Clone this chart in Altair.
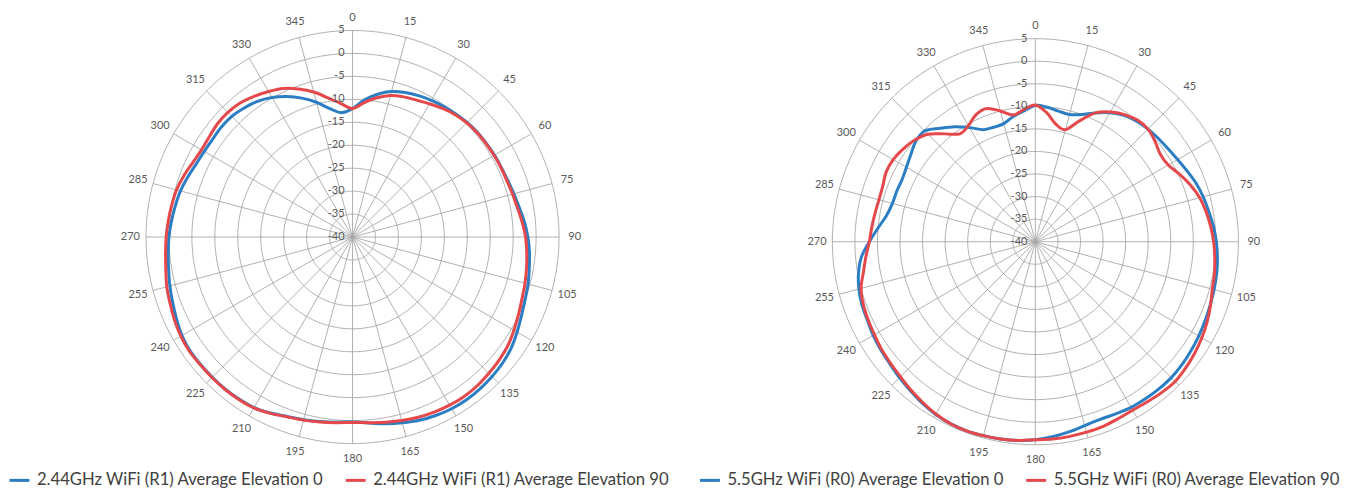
import altair as alt
import pandas as pd

# ---------------- data (dB) ----------------
ANGLES = list(range(0, 360, 5))

L_BLUE = [-12.0, -10.0, -8.4, -7.2, -6.5, -6.0, -5.6, -5.3, -5.0, -4.7, -4.5, -4.4,
          -4.3, -4.2, -4.0, -3.6, -3.1, -2.4, -1.8, -1.3, -0.9, -0.4, 0.0, 0.6,
          1.4, 2.2, 2.7, 3.0, 3.2, 3.3, 3.2, 2.9, 2.5, 1.9, 1.3, 0.7,
          0.3, 0.5, 0.8, 1.2, 1.6, 2.3, 2.9, 3.1, 3.2, 3.2, 3.2, 3.2,
          2.9, 2.3, 1.7, 1.2, 0.7, 0.3, 0.0, -0.4, -0.8, -1.2, -1.8, -2.4,
          -2.7, -2.8, -2.7, -2.8, -3.3, -3.9, -4.9, -6.2, -7.8, -9.6, -11.6, -12.8]
L_RED = [-12.0, -10.6, -9.2, -8.1, -7.5, -7.1, -6.5, -5.8, -5.2, -4.8, -4.6, -4.5,
         -4.4, -4.3, -4.2, -3.9, -3.5, -2.9, -2.3, -1.9, -1.5, -1.1, -0.7, -0.1,
         0.6, 1.3, 1.7, 2.0, 2.3, 2.4, 2.3, 2.1, 1.8, 1.4, 1.0, 0.6,
         0.4, 0.6, 0.9, 1.3, 1.7, 2.4, 3.0, 3.2, 3.3, 3.3, 3.3, 3.4,
         3.2, 2.8, 2.3, 1.9, 1.3, 0.9, 0.6, 0.3, 0.0, -0.3, -0.9, -1.6,
         -2.0, -1.9, -1.6, -1.6, -1.9, -2.6, -3.4, -4.3, -5.7, -7.3, -9.2, -10.8]

R_BLUE = [-9.8, -10.1, -10.6, -10.8, -10.0, -8.5, -7.0, -5.8, -5.1, -4.7, -4.4, -4.1,
          -3.6, -2.9, -2.1, -1.5, -1.0, -0.4, 0.1, 0.5, 0.8, 1.0, 1.2, 1.5,
          1.8, 2.1, 2.4, 2.6, 2.6, 2.5, 2.4, 2.1, 1.9, 2.2, 2.8, 3.4,
          3.9, 4.2, 4.4, 4.5, 4.6, 4.5, 4.2, 3.7, 3.1, 2.6, 2.1, 1.8,
          1.5, 1.1, 0.9, 0.5, -0.2, -1.3, -3.2, -5.0, -6.5, -7.2, -7.3, -7.4,
          -7.0, -6.3, -5.4, -5.3, -7.2, -8.9, -10.8, -12.6, -13.0, -12.9, -11.8, -10.9]
R_RED = [-9.7, -11.3, -13.6, -14.3, -11.5, -8.5, -6.8, -5.6, -4.8, -4.7, -5.4, -6.2,
         -6.0, -4.7, -3.4, -2.3, -1.6, -1.0, -0.5, -0.1, 0.3, 0.6, 1.3, 2.0,
         2.6, 3.1, 3.5, 3.8, 3.6, 3.3, 3.1, 3.3, 3.6, 3.7, 3.8, 3.9,
         3.9, 4.2, 4.4, 4.5, 4.6, 4.5, 4.1, 3.5, 2.9, 2.3, 1.9, 1.6,
         1.2, 0.9, 0.6, 0.0, -1.3, -2.3, -3.2, -3.6, -3.9, -4.1, -4.0, -3.5,
         -3.6, -4.2, -5.0, -6.3, -8.8, -10.8, -10.3, -8.9, -8.6, -10.0, -11.5, -10.6]

SERIES_L = ["2.44GHz WiFi (R1) Average Elevation 0", "2.44GHz WiFi (R1) Average Elevation 90"]
SERIES_R = ["5.5GHz WiFi (R0) Average Elevation 0", "5.5GHz WiFi (R0) Average Elevation 90"]

ANGLE_TICKS = list(range(0, 360, 15))
RING_VALUES = [-35, -30, -25, -20, -15, -10, -5, 0, 5]
RADIAL_LABELS = [-40, -35, -30, -25, -20, -15, -10, -5, 0, 5]
R_MIN = -40
R_MAX = 5

BLUE = "#2B7EC3"
RED = "#E5484B"
GRID = "#A8A8A8"
TXT = "#595959"
FONT = "Lato"


def panel(names, blue, red, width, height, cx, cy, k, legend_x, legend_y):
    xs = alt.Scale(domain=[-cx / k, (width - cx) / k], nice=False, zero=False)
    ys = alt.Scale(domain=[-(height - cy) / k, cy / k], nice=False, zero=False)

    def X(f):
        return alt.X(f, type="quantitative", scale=xs, axis=None)

    def Y(f):
        return alt.Y(f, type="quantitative", scale=ys, axis=None)

    span = R_MAX - R_MIN

    rings = alt.Chart(pd.DataFrame({"ring": RING_VALUES})).transform_calculate(
        a="sequence(0, 362, 2)"
    ).transform_flatten(["a"]).transform_calculate(
        rx=f"(datum.ring - ({R_MIN})) * sin(datum.a * PI / 180)",
        ry=f"(datum.ring - ({R_MIN})) * cos(datum.a * PI / 180)",
    ).mark_line(color=GRID, strokeWidth=0.9).encode(
        x=X("rx"), y=Y("ry"), detail="ring:N", order="a:Q"
    )

    spokes = alt.Chart(pd.DataFrame({"ang": ANGLE_TICKS})).transform_calculate(
        x0="0", y0="0",
        xe=f"{span} * sin(datum.ang * PI / 180)",
        ye=f"{span} * cos(datum.ang * PI / 180)",
    ).mark_rule(color=GRID, strokeWidth=0.9).encode(
        x=X("x0"), y=Y("y0"), x2="xe:Q", y2="ye:Q"
    )

    ang_lab = alt.Chart(pd.DataFrame({"ang": ANGLE_TICKS,
                                      "lab": [str(a) for a in ANGLE_TICKS]})).transform_calculate(
        lx=f"{span + 3.4} * sin(datum.ang * PI / 180)",
        ly=f"{span + 3.4} * cos(datum.ang * PI / 180) - (datum.ang == 0 ? 0.6 : 0)",
    ).mark_text(font=FONT, fontSize=11, color=TXT, align="center", baseline="middle").encode(
        x=X("lx"), y=Y("ly"), text="lab:N"
    )

    rad_lab = alt.Chart(pd.DataFrame({"v": RADIAL_LABELS,
                                      "lab": [str(v) for v in RADIAL_LABELS]})).transform_calculate(
        lx="0", ly=f"datum.v - ({R_MIN})"
    ).mark_text(font=FONT, fontSize=11, color=TXT, align="right", baseline="middle", dx=-8).encode(
        x=X("lx"), y=Y("ly"), text="lab:N"
    )

    df = pd.DataFrame({
        "angle": ANGLES + ANGLES,
        "value": blue + red,
        "series": [names[0]] * len(ANGLES) + [names[1]] * len(ANGLES),
    })
    lines = alt.Chart(df).transform_calculate(
        px=f"(datum.value - ({R_MIN})) * sin(datum.angle * PI / 180)",
        py=f"(datum.value - ({R_MIN})) * cos(datum.angle * PI / 180)",
    ).mark_line(strokeWidth=3, interpolate="cardinal-closed").encode(
        x=X("px"), y=Y("py"),
        order="angle:Q",
        color=alt.Color("series:N",
                        scale=alt.Scale(domain=names, range=[BLUE, RED]),
                        legend=alt.Legend(title=None, orient="none", legendX=legend_x, legendY=legend_y,
                                          direction="horizontal", symbolType="stroke",
                                          symbolStrokeWidth=3, symbolSize=400,
                                          labelFont=FONT, labelFontSize=16.7, labelColor="#404040",
                                          columnPadding=15, labelOffset=6, labelLimit=0)),
    )

    return alt.layer(rings, spokes, lines, rad_lab, ang_lab).properties(width=width, height=height)


left = panel(SERIES_L, L_BLUE, L_RED, 680, 475, 345.3, 229.0, 207.0 / 45, 0, 461)
right = panel(SERIES_R, R_BLUE, R_RED, 653, 475, 349.7, 233.7, 203.5 / 45, 12, 461)

chart = alt.hconcat(left, right, spacing=0).resolve_scale(
    x="independent", y="independent", color="independent"
).properties(padding=0, background="white").configure_view(stroke=None)

chart.save("out.html", embed_options={"renderer": "svg", "actions": False})
